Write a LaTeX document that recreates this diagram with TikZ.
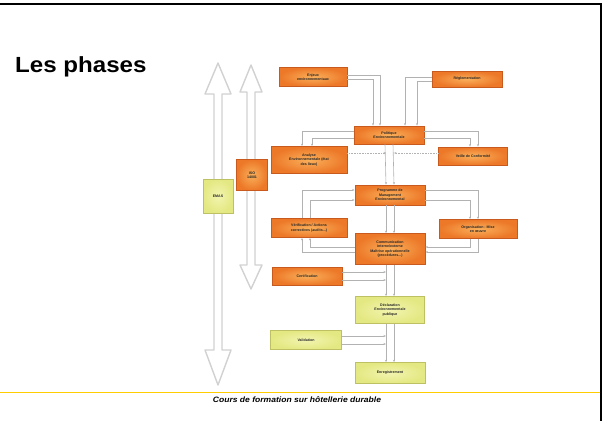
\documentclass[tikz,border=0pt]{standalone}
\usepackage{fontspec}
\setmainfont{Liberation Sans}
\usetikzlibrary{arrows.meta}
\definecolor{boxorange}{RGB}{236,120,40}
\definecolor{boxorangelight}{RGB}{250,175,90}
\definecolor{boxorangedark}{RGB}{200,90,30}
\definecolor{boxyellow}{RGB}{228,232,130}
\definecolor{boxyellowlight}{RGB}{242,244,175}
\definecolor{boxyellowdark}{RGB}{190,192,100}
\definecolor{footline}{RGB}{255,204,0}
\tikzset{
  phase/.style={draw=boxorangedark, line width=0.8bp, inner color=boxorangelight,
    outer color=boxorange, inner sep=0pt, align=center, text=black!85,
    font=\bfseries\fontsize{3.6}{4.4}\selectfont},
  phase yellow/.style={phase, draw=boxyellowdark, inner color=boxyellowlight,
    outer color=boxyellow},
  link/.style={draw=black!30, line width=0.6bp, -{Stealth[length=2.5bp,width=2bp]}},
  big arrow/.style={draw=black!18, line width=1.4bp, fill=white, line join=round},
}
\begin{document}
\begin{tikzpicture}[x=1bp,y=-1bp]
  \useasboundingbox (0,0) rectangle (604,421);
  % slide frame
  \draw[line width=2bp] (0,4) -- (601,4) -- (601,421);
  \draw[footline, line width=1bp] (0,392.5) -- (600,392.5);
  \node[anchor=base west, inner sep=0pt, font=\bfseries\fontsize{22}{24}\selectfont\addfontfeature{FakeStretch=1.1}] (title) at (15,72) {Les phases};
  \node[font=\bfseries\itshape\fontsize{7.8}{8}\selectfont\addfontfeature{FakeStretch=1.1}] (foot) at (297,399.5) {Cours de formation sur hôtellerie durable};

  % long hollow arrows
  \draw[big arrow] (218,63) -- (231,94) -- (222,94) -- (222,350) -- (231,350) -- (218,385)
    -- (205,350) -- (214,350) -- (214,94) -- (205,94) -- cycle;
  \draw[big arrow] (251,65) -- (262,92) -- (255,92) -- (255,265) -- (262,265) -- (251,289)
    -- (240,265) -- (247,265) -- (247,92) -- (240,92) -- cycle;
  \node[phase yellow, minimum width=30bp, minimum height=34bp] (emas) at (218,196) {EMAS};
  \node[phase, minimum width=31bp, minimum height=31bp] (iso) at (252,175) {ISO\\14001};

  % boxes
  \node[phase, minimum width=68bp, minimum height=19bp] (enj) at (313,77) {Enjeux\\environnementaux};
  \node[phase, minimum width=70bp, minimum height=16bp] (reg) at (467,79) {Réglementation};
  \node[phase, minimum width=70bp, minimum height=18bp] (pol) at (389,135) {Politique\\Environnementale};
  \node[phase, minimum width=76bp, minimum height=27bp] (ana) at (309,160) {Analyse\\Environnementale (état\\des lieux)};
  \node[phase, minimum width=69bp, minimum height=18bp] (veil) at (473,156) {Veille de Conformité};
  \node[phase, minimum width=70bp, minimum height=20bp] (prog) at (390,195) {Programme de\\Management\\Environnemental};
  \node[phase, minimum width=76bp, minimum height=19bp] (verif) at (309,228) {Vérification / Actions\\correctives (audits...)};
  \node[phase, minimum width=78bp, minimum height=19bp] (org) at (478,229) {Organisation - Mise\\en œuvre};
  \node[phase, minimum width=70bp, minimum height=31bp] (comm) at (390,249) {Communication\\interne/externe\\Maîtrise opérationnelle\\(procédures...)};
  \node[phase, minimum width=70bp, minimum height=18bp] (cert) at (307,276) {Certification};
  \node[phase yellow, minimum width=69bp, minimum height=27bp] (decl) at (390,310) {Déclaration\\Environnementale\\publique};
  \node[phase yellow, minimum width=71bp, minimum height=19bp] (valid) at (306,340) {Validation};
  \node[phase yellow, minimum width=70bp, minimum height=21bp] (enr) at (390,373) {Enregistrement};

  \coordinate (cl) at (386,0);
  \coordinate (cr) at (394,0);

  % inputs to the policy
  \draw[link] ([yshift=2bp]enj.east) -| ([xshift=-9bp]pol.north);
  \draw[link] ([yshift=-2bp]enj.east) -| ([xshift=-16bp]pol.north);
  \draw[link] ([yshift=2bp]reg.west) -| ([xshift=16bp]pol.north);
  \draw[link] ([yshift=-2bp]reg.west) -| ([xshift=28bp]pol.north);
  \draw[link] ([yshift=4bp]pol.west) -| ([xshift=-7bp]ana.north);
  \draw[link] ([yshift=-3bp]pol.west) -| ([xshift=3bp]ana.north);
  \draw[link] ([yshift=4bp]pol.east) -| ([xshift=5bp]veil.north);
  \draw[link] ([yshift=-3bp]pol.east) -| ([xshift=-3bp]veil.north);
  \draw[link, densely dotted] ([yshift=7bp]ana.east) -- ([yshift=7bp]ana.east -| cl);
  \draw[link, densely dotted] ([yshift=3bp]veil.west) -- ([yshift=3bp]veil.west -| cr);

  % main column
  \foreach \a/\b in {pol/prog, prog/comm, comm/decl, decl/enr}
  {
    \draw[link] ([xshift=-4bp]\a.south) -- ([xshift=-4bp]\b.north);
    \draw[link] ([xshift=4bp]\a.south) -- ([xshift=4bp]\b.north);
  }

  % improvement loop
  \draw[link] ([yshift=5bp]prog.east) -| ([xshift=0bp]org.north);
  \draw[link] ([yshift=-5bp]prog.east) -| ([xshift=-8bp]org.north);
  \draw[link] ([xshift=-8bp]org.south) |- ([yshift=2bp]comm.east);
  \draw[link] ([xshift=0bp]org.south) |- ([yshift=-3bp]comm.east);
  \draw[link] ([yshift=2bp]comm.west) -| ([xshift=1bp]verif.south);
  \draw[link] ([yshift=-3bp]comm.west) -| ([xshift=-7bp]verif.south);
  \draw[link] ([xshift=-7bp]verif.north) |- ([yshift=5bp]prog.west);
  \draw[link] ([xshift=1bp]verif.north) |- ([yshift=-5bp]prog.west);

  % certification and validation
  \draw[link] ([yshift=4bp]cert.east) -- ([yshift=4bp]cert.east -| cl);
  \draw[link] ([yshift=-4bp]cert.east) -- ([yshift=-4bp]cert.east -| cl);
  \draw[link] ([yshift=4bp]valid.east) -- ([yshift=4bp]valid.east -| cl);
  \draw[link] ([yshift=-4bp]valid.east) -- ([yshift=-4bp]valid.east -| cl);
\end{tikzpicture}
\end{document}
